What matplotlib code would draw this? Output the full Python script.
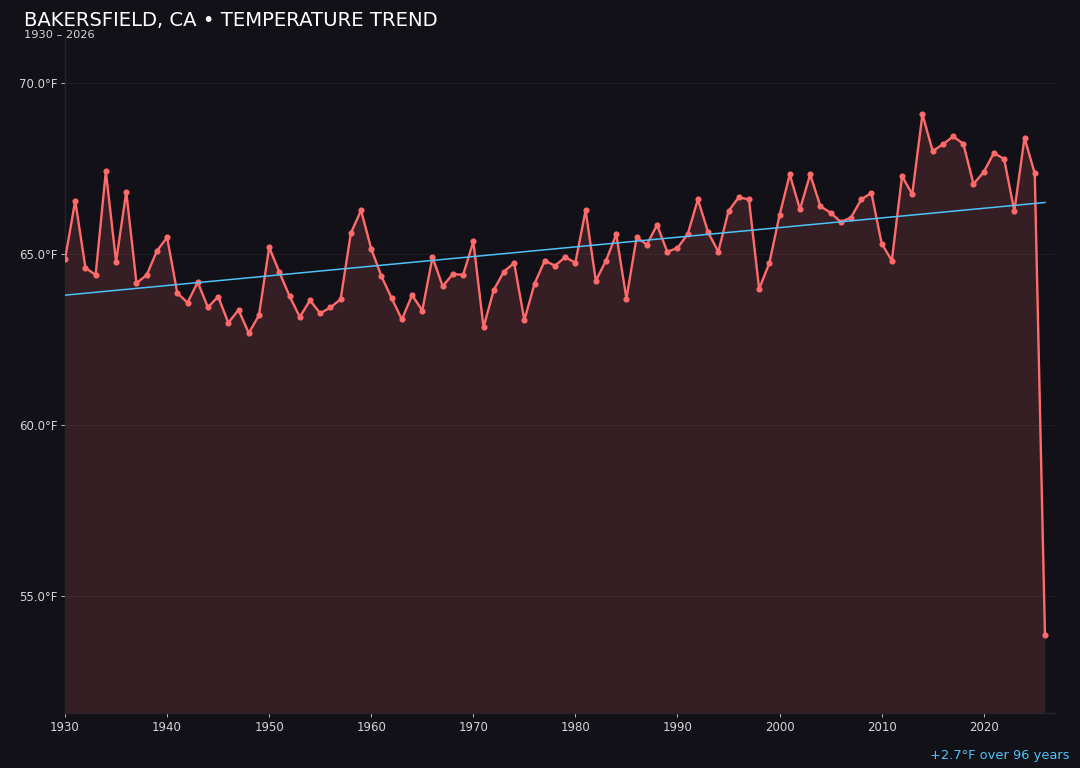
import numpy as np
import matplotlib
matplotlib.use("Agg")
import matplotlib.pyplot as plt

# Data
years = list(range(1930, 2027))
temps = [
    64.85, 66.56, 64.60, 64.39, 67.42, 64.78, 66.82, 64.15, 64.39, 65.09,  # 1930s
    65.49, 63.86, 63.58, 64.18, 63.44, 63.76, 62.99, 63.37, 62.69, 63.21,  # 1940s
    65.20, 64.47, 63.77, 63.16, 63.65, 63.27, 63.44, 63.68, 65.61, 66.28,  # 1950s
    65.15, 64.35, 63.71, 63.09, 63.80, 63.35, 64.91, 64.06, 64.42, 64.39,  # 1960s
    65.37, 62.86, 63.95, 64.49, 64.74, 63.07, 64.14, 64.81, 64.66, 64.91,  # 1970s
    64.75, 66.28, 64.22, 64.81, 65.58, 63.70, 65.49, 65.28, 65.85, 65.07,  # 1980s
    65.18, 65.58, 66.60, 65.64, 65.07, 66.26, 66.66, 66.60, 63.98, 64.74,  # 1990s
    66.14, 67.33, 66.31, 67.33, 66.40, 66.21, 65.94, 66.07, 66.60, 66.79,  # 2000s
    65.31, 64.81, 67.28, 66.75, 69.09, 68.01, 68.21, 68.44, 68.23, 67.05,  # 2010s
    67.40, 67.96, 67.78, 66.26, 68.40, 67.36, 53.85,                      # 2020s
]
trend_ends = [63.80, 66.51]  # trend line at 1930 and 2026
yticks = [55, 60, 65, 70]

title = "BAKERSFIELD, CA \u2022 TEMPERATURE TREND"
subtitle = "1930 \u2013 2026"
footer = "+2.7\u00b0F over 96 years"

# Colours
BG = "#121118"
LINE = "#ff6b6b"
TREND = "#4fc3f7"
GRID = "#1f1d24"
TXT = "#d4d4d8"

fig = plt.figure(figsize=(10.8, 7.68), dpi=100, facecolor=BG)
ax = fig.add_axes([0.0602, 0.0716, 0.9168, 0.8789])
ax.set_facecolor(BG)

ymin, ymax = 51.58, 71.32
ax.fill_between(years, temps, ymin, color=LINE, alpha=0.15, linewidth=0, zorder=1)
ax.plot(years, temps, color=LINE, linewidth=1.7, marker="o", markersize=3.4, zorder=3)
ax.plot([years[0], years[-1]], trend_ends, color=TREND, linewidth=1.1, zorder=4)

ax.set_xlim(1930, 2027)
ax.set_ylim(ymin, ymax)
ax.set_xticks(range(1930, 2030, 10))
ax.set_yticks(yticks)
ax.set_yticklabels([f"{v:.1f}\u00b0F" for v in yticks])
ax.tick_params(colors=TXT, labelsize=8.5, length=3, width=0.6, pad=2.5)
for t in ax.get_xticklines() + ax.get_yticklines():
    t.set_color("#2a2930")
ax.grid(axis="y", color=GRID, linewidth=0.8)
ax.set_axisbelow(True)
for side in ["top", "right"]:
    ax.spines[side].set_visible(False)
for side in ["left", "bottom"]:
    ax.spines[side].set_color("#26252c")
    ax.spines[side].set_linewidth(1.0)

fig.text(0.022, 0.973, title, color="white", fontsize=14.1, ha="left", va="center")
fig.text(0.022, 0.954, subtitle, color=TXT, fontsize=8.2, ha="left", va="center")
fig.text(0.990, 0.016, footer, color=TREND, fontsize=9.4, ha="right", va="center")

fig.savefig("out.png", dpi=100, facecolor=BG)
